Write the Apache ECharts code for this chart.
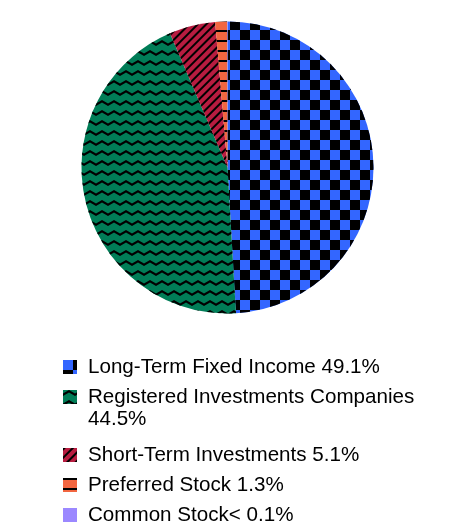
<!DOCTYPE html>
<html lang="en" style="height: 100%">
<head>
  <meta charset="utf-8">
  <style>
    body {
      font-family: 'Liberation Sans', Arial, sans-serif;
      background-color: #ffffff;
    }
  </style>
</head>
<body style="height: 100%; margin: 0">
  <div id="container" style="height: 100%"></div>

  <script type="text/javascript" src="https://cdn.jsdelivr.net/npm/echarts@6/dist/echarts.min.js"></script>

  <script type="text/javascript">
    // holdings breakdown
    var categories = [
      'Long-Term Fixed Income',
      'Registered Investments Companies',
      'Short-Term Investments',
      'Preferred Stock',
      'Common Stock'
    ];
    var values = [49.1, 44.5, 5.1, 1.3, 0.05];
    var pctLabels = ['49.1%', '44.5%', '5.1%', '1.3%', '< 0.1%'];

    var colors = ['#3366ff', '#007d57', '#b81c40', '#f26640', '#9b88ff'];

    // fill patterns per slice
    var decals = [
      { symbol: 'rect', symbolSize: 1, color: '#000',
        dashArrayX: [[10, 10], [0, 10, 10, 0]], dashArrayY: [10, 0] },
      { symbol: 'path://M0,3.5 L6,0 L12,3.5 L12,6 L6,2.5 L0,6 Z', symbolSize: 1, color: '#000',
        dashArrayX: [12, 0], dashArrayY: [6, 4] },
      { symbol: 'rect', symbolSize: 1, color: '#000',
        dashArrayX: [1, 0], dashArrayY: [2, 4], rotation: -Math.PI / 4 },
      { symbol: 'rect', symbolSize: 1, color: '#000',
        dashArrayX: [1, 0], dashArrayY: [2, 8] },
      'none'
    ];

    var dom = document.getElementById('container');
    var myChart = echarts.init(dom, null, { renderer: 'canvas' });

    var seriesData = categories.map(function (name, i) {
      var item = {
        name: name,
        value: values[i],
        itemStyle: { color: colors[i] }
      };
      if (decals[i] !== 'none') item.itemStyle.decal = decals[i];
      return item;
    });

    // swatch sitting at the top of a taller box, for the wrapped entry
    var topSwatch = 'path://M0,0 L14,0 L14,14 L0,14 Z M0,36 L14,36 Z';

    function makeLegend(top, names, icon, itemHeight) {
      return {
        orient: 'vertical',
        left: 63,
        top: top,
        height: 200,
        padding: 0,
        itemWidth: 14,
        itemHeight: itemHeight,
        itemGap: 8,
        icon: icon,
        selectedMode: false,
        data: names,
        formatter: function (name) {
          var i = categories.indexOf(name);
          var sep = name === 'Common Stock' ? '' : ' ';
          return name + sep + pctLabels[i];
        },
        textStyle: {
          fontFamily: 'Liberation Sans',
          fontSize: 20.6,
          lineHeight: 22,
          color: '#000',
          width: 340,
          overflow: 'break',
          padding: [0, 0, 0, 6]
        }
      };
    }

    var option = {
      animation: false,
      legend: [
        makeLegend(356, categories.slice(0, 1), 'rect', 14),
        makeLegend(386, categories.slice(1, 2), topSwatch, 36),
        makeLegend(444, categories.slice(2, 5), 'rect', 14)
      ],
      series: [
        {
          type: 'pie',
          center: [227.5, 167.5],
          radius: [0, 146],
          startAngle: 90,
          clockwise: true,
          label: { show: false },
          labelLine: { show: false },
          itemStyle: { borderWidth: 0 },
          emphasis: { disabled: true },
          data: seriesData
        }
      ]
    };

    myChart.setOption(option);
    window.addEventListener('resize', myChart.resize);
  </script>
</body>
</html>
